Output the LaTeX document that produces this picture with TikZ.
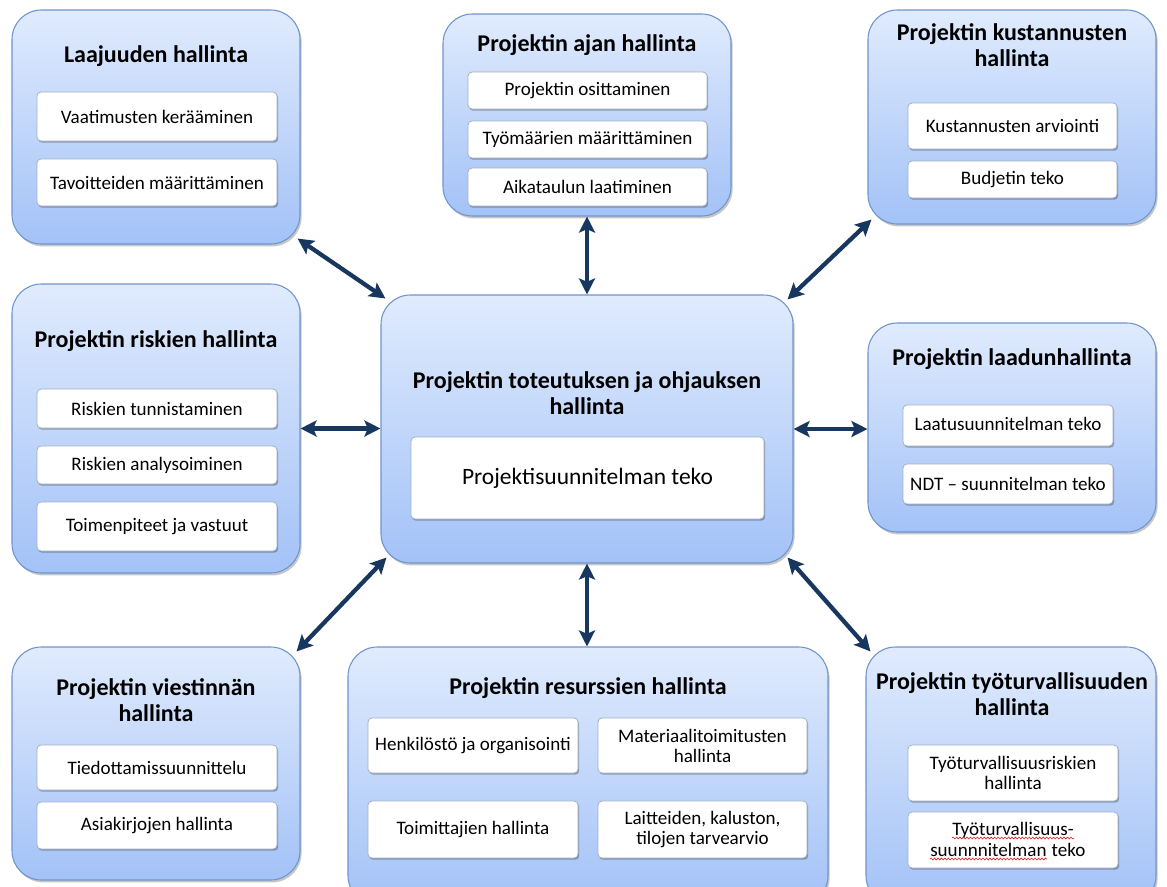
\documentclass[tikz,border=0pt]{standalone}
\usepackage{fontspec}
\setmainfont{Carlito}
\usetikzlibrary{arrows.meta,shadows,fit,calc,decorations.pathmorphing}

\definecolor{boxtop}{HTML}{E0EBFD}
\definecolor{boxbot}{HTML}{A3C2F7}
\definecolor{boxline}{HTML}{6F95CD}
\definecolor{subline}{HTML}{A3B1C6}
\definecolor{arrowblue}{HTML}{17375E}
\definecolor{spellred}{HTML}{E02020}

\tikzset{
  areabox/.style={draw=boxline, line width=0.8pt, rounded corners=22pt,
    top color=boxtop, bottom color=boxbot, inner sep=0pt,
    drop shadow={shadow xshift=1.2pt, shadow yshift=-1.8pt, opacity=0.22, fill=black}},
  taskbox/.style={draw=subline, line width=0.6pt, fill=white, rounded corners=3pt,
    inner sep=0pt,
    drop shadow={shadow xshift=0.9pt, shadow yshift=-1.3pt, opacity=0.28, fill=black}},
  tasktext/.style={inner sep=0pt, align=center, font=\fontsize{14.3}{15}\selectfont},
  linetext/.style={inner sep=0pt, font=\fontsize{14.3}{15}\selectfont},
  areatitle/.style={font=\fontsize{18}{19.5}\selectfont\bfseries, align=center, inner sep=0pt},
  link/.style={draw=arrowblue, line width=3.2pt,
    {Stealth[length=12pt,width=12pt,inset=2.5pt]}-{Stealth[length=12pt,width=12pt,inset=2.5pt]}},
  spellwave/.style={draw=spellred, line width=0.45pt, decorate,
    decoration={snake, amplitude=0.7pt, segment length=2.6pt}},
}

\begin{document}
\begin{tikzpicture}[x=0.75pt,y=-0.75pt]
\fill[white] (0,0) rectangle (1167,886);
\useasboundingbox (0,0) rectangle (1167,886);

% ---- scope management ----
\node[areabox, fit={(12,10)(300,244)}] (scope) {};
\node[areatitle] (scopeT) at (156,56) {Laajuuden hallinta};
\node[taskbox, fit={(37,92)(277,141)}] (scope1) {};
\node[tasktext] (scope1t) at (scope1.center) {Vaatimusten kerääminen};
\node[taskbox, fit={(37,159)(277,206)}] (scope2) {};
\node[tasktext] (scope2t) at (scope2.center) {Tavoitteiden määrittäminen};

% ---- time management ----
\node[areabox, fit={(443,14)(731,216)}] (time) {};
\node[areatitle] (timeT) at (587,45) {Projektin ajan hallinta};
\node[taskbox, fit={(468,72)(707,109)}] (time1) {};
\node[tasktext] (time1t) at (time1.center) {Projektin osittaminen};
\node[taskbox, fit={(468,121)(707,158)}] (time2) {};
\node[tasktext] (time2t) at (time2.center) {Työmäärien määrittäminen};
\node[taskbox, fit={(468,168)(707,206)}] (time3) {};
\node[tasktext] (time3t) at (time3.center) {Aikataulun laatiminen};

% ---- cost management ----
\node[areabox, fit={(868,10)(1156,224)}] (cost) {};
\node[areatitle] (costT) at (1012,45) {Projektin kustannusten\\hallinta};
\node[taskbox, fit={(908,103)(1117,149)}] (cost1) {};
\node[tasktext] (cost1t) at (cost1.center) {Kustannusten arviointi};
\node[taskbox, fit={(908,161)(1117,198)}] (cost2) {};
\node[tasktext] (cost2t) at (cost2.center) {Budjetin teko};

% ---- risk management ----
\node[areabox, fit={(12,284)(300,573)}] (risk) {};
\node[areatitle] (riskT) at (156,341) {Projektin riskien hallinta};
\node[taskbox, fit={(37,389)(277,428)}] (risk1) {};
\node[tasktext] (risk1t) at (risk1.center) {Riskien tunnistaminen};
\node[taskbox, fit={(37,446)(277,484)}] (risk2) {};
\node[tasktext] (risk2t) at (risk2.center) {Riskien analysoiminen};
\node[taskbox, fit={(37,502)(277,551)}] (risk3) {};
\node[tasktext] (risk3t) at (risk3.center) {Toimenpiteet ja vastuut};

% ---- central box ----
\node[areabox, fit={(381,295)(793,563)}] (ctr) {};
\node[areatitle] (ctrT) at (587,393) {Projektin toteutuksen ja ohjauksen\\hallinta};
\node[taskbox, fit={(411,437)(764,519)}] (ctr1) {};
\node[tasktext, font=\fontsize{17.6}{19}\selectfont] (ctr1t) at (ctr1.center) {Projektisuunnitelman teko};

% ---- quality management ----
\node[areabox, fit={(868,323)(1156,532)}] (qual) {};
\node[areatitle] (qualT) at (1012,359) {Projektin laadunhallinta};
\node[taskbox, fit={(903,405)(1113,446)}] (qual1) {};
\node[tasktext] (qual1t) at ($(qual1.center)+(0,-2)$) {Laatusuunnitelman teko};
\node[taskbox, fit={(903,464)(1113,504)}] (qual2) {};
\node[tasktext] (qual2t) at (qual2.center) {NDT – suunnitelman teko};

% ---- communication management ----
\node[areabox, fit={(12,647)(300,880)}] (comm) {};
\node[areatitle] (commT) at (156,700) {Projektin viestinnän\\hallinta};
\node[taskbox, fit={(37,745)(277,790)}] (comm1) {};
\node[tasktext] (comm1t) at (comm1.center) {Tiedottamissuunnittelu};
\node[taskbox, fit={(37,802)(277,849)}] (comm2) {};
\node[tasktext] (comm2t) at (comm2.center) {Asiakirjojen hallinta};

% ---- resource management ----
\node[areabox, fit={(348,647)(828,905)}] (res) {};
\node[areatitle] (resT) at (588,688) {Projektin resurssien hallinta};
\node[taskbox, fit={(368,718)(578,773)}] (res1) {};
\node[tasktext] (res1t) at (res1.center) {Henkilöstö ja organisointi};
\node[taskbox, fit={(598,718)(807,773)}] (res2) {};
\node[tasktext] (res2t) at (res2.center) {Materiaalitoimitusten\\hallinta};
\node[taskbox, fit={(368,801)(578,858)}] (res3) {};
\node[tasktext] (res3t) at (res3.center) {Toimittajien hallinta};
\node[taskbox, fit={(598,801)(807,858)}] (res4) {};
\node[tasktext] (res4t) at (res4.center) {Laitteiden, kaluston,\\tilojen tarvearvio};

% ---- occupational safety management ----
\node[areabox, fit={(866,647)(1156,905)}] (safe) {};
\node[areatitle] (safeT) at (1012,694) {Projektin työturvallisuuden\\hallinta};
\node[taskbox, fit={(908,745)(1118,801)}] (safe1) {};
\node[tasktext] (safe1t) at (safe1.center) {Työturvallisuusriskien\\hallinta};
\node[taskbox, fit={(908,812)(1118,868)}] (safe2) {};
\node[linetext, anchor=base] (safe2a) at (1013,835) {Työturvallisuus-};
\node[linetext, anchor=base west] (safe2b) at (930,856) {suunnnitelman};
\node[linetext, anchor=base west] (safe2c) at ($(safe2b.base east)+(4.5,0)$) {teko};
% spell-check underlines
\draw[spellwave] ($(safe2a.base west)+(0,3)$) -- ($(safe2a.base east)+(0,3)$);
\draw[spellwave] ($(safe2b.base west)+(0,3)$) -- ($(safe2b.base east)+(0,3)$);

% ---- connectors ----
\draw[link] ($(scope.south east)+(-3,-6)$) -- ($(ctr.north west)+(5,4)$);
\draw[link] (time.south) -- (time.south |- ctr.north);
\draw[link] ($(cost.south west)+(4,-5)$) -- ($(ctr.north east)+(-6,5)$);
\draw[link] (risk.east) -- (risk.east -| ctr.west);
\draw[link] (ctr.east) -- (ctr.east -| qual.west);
\draw[link] ($(comm.north east)+(-4,5)$) -- ($(ctr.south west)+(6,-6)$);
\draw[link] (ctr.south) -- (ctr.south |- res.north);
\draw[link] ($(safe.north west)+(5,5)$) -- ($(ctr.south east)+(-6,-6)$);
\end{tikzpicture}
\end{document}
